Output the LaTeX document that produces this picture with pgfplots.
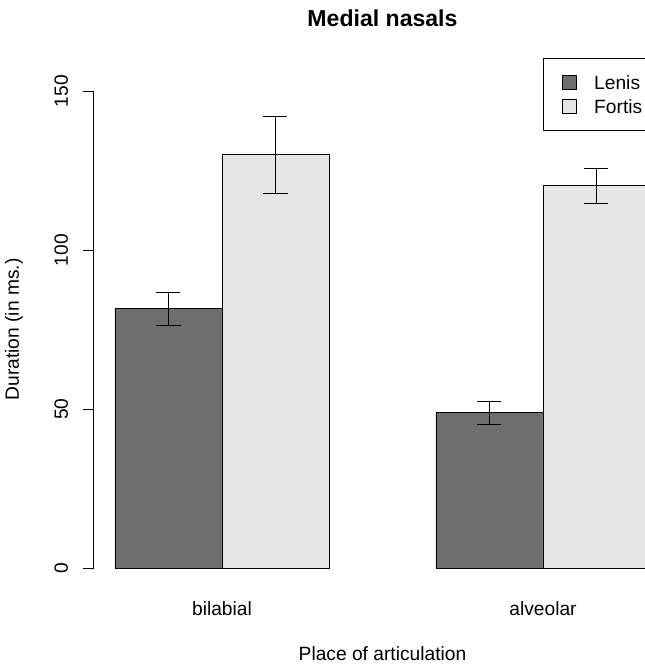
\documentclass[border=0pt]{standalone}
\usepackage{pgfplots}
\pgfplotsset{compat=1.18}
\usepackage{fontspec}
\setmainfont{Liberation Sans}
\definecolor{lenis}{HTML}{6E6E6E}
\definecolor{fortis}{HTML}{E6E6E6}
\begin{document}
\fontsize{14.4bp}{17bp}\selectfont
\begin{tikzpicture}
\begin{axis}[
  at={(70.2bp,61.44bp)}, anchor=south west,
  scale only axis, width=433.35bp, height=386.37bp,
  xmin=0.8, xmax=6.2, ymin=-6, ymax=156,
  clip=false,
  axis line style={draw=none},
  tick pos=left,
  xtick={2,5}, xticklabels={bilabial,alveolar},
  xtick style={draw=none},
  xticklabel style={anchor=center, yshift=-8.2bp},
  ytick={0,50,100,150},
  ytick style={black, line width=0.6bp},
  tick align=outside, major tick length=8bp,
  yticklabel style={rotate=90, anchor=south, inner sep=0pt},
  yticklabel shift=11bp,
  /pgf/number format/assume math mode=true,
  xlabel={Place of articulation},
  xlabel style={at={(axis description cs:0.5,-0.1299)}, anchor=center},
  ylabel={Duration (in ms.)},
  ylabel style={at={(axis description cs:-0.1378,0.5)}, anchor=center},
  title={\bfseries\fontsize{17.3bp}{20bp}\selectfont Medial nasals},
  title style={at={(axis description cs:0.5,1.089)}, anchor=center},
  legend style={at={(axis description cs:0.7778,1.027)}, anchor=north west,
    draw=black, line width=0.6bp, inner xsep=14.25bp, inner ysep=9bp,
    row sep=0pt, column sep=0pt,
    nodes={inner sep=0pt, text height=14.15bp, text depth=3.85bp, text width=44bp, align=left, anchor=west}},
  legend cell align=left,
  legend image code/.code={\draw[#1, line width=0.6bp] (0bp,-5.25bp) rectangle (10.5bp,5.25bp); \path (23.25bp,0) -- (23.25bp,0);},
]
\addplot[ybar, bar width=1, bar shift=0, fill=lenis, draw=black, line width=0.6bp,
  error bars/.cd, y dir=both, y explicit,
  error bar style={black, line width=0.6bp},
  error mark options={black, rotate=90, mark size=9bp, line width=0.6bp}]
  coordinates {(1.5,81.5) +- (0,5.1) (4.5,48.8) +- (0,3.65)};
\addlegendentry{Lenis}
\addplot[ybar, bar width=1, bar shift=0, fill=fortis, draw=black, line width=0.6bp,
  error bars/.cd, y dir=both, y explicit,
  error bar style={black, line width=0.6bp},
  error mark options={black, rotate=90, mark size=9bp, line width=0.6bp}]
  coordinates {(2.5,130.0) +- (0,12.1) (5.5,120.2) +- (0,5.6)};
\addlegendentry{Fortis}
\draw[black, line width=0.6bp] (axis cs:0.8,0) -- (axis cs:0.8,150);
\end{axis}
\pgfresetboundingbox
\path (0,0) rectangle (483.75bp,501.75bp);
\end{tikzpicture}
\end{document}
